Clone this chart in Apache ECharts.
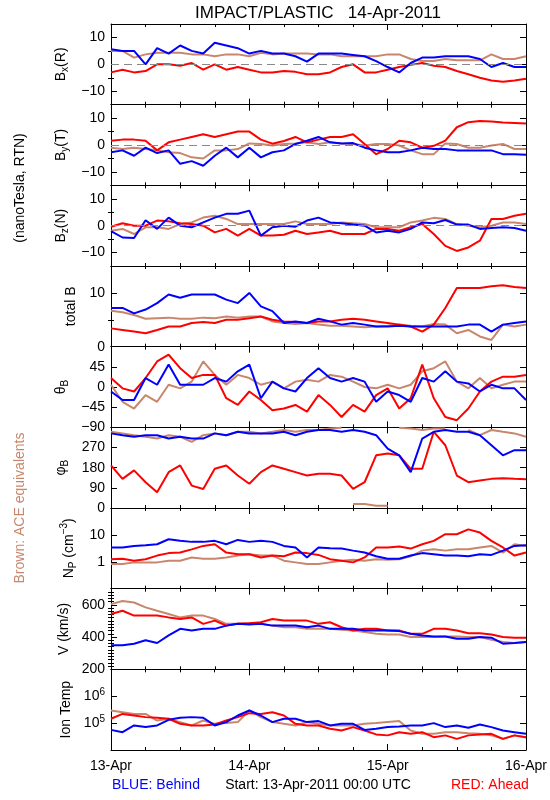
<!DOCTYPE html>
<html>
<head>
<meta charset="utf-8">
<script src="https://cdn.jsdelivr.net/npm/echarts@6/dist/echarts.min.js"></script>
<style>html,body{margin:0;padding:0;background:#fff}#chart{width:550px;height:800px}</style>
</head>
<body>
<div id="chart"></div>
<script>
// ---------- DATA (2-hour samples, hours since 13-Apr-2011 00:00 UTC) ----------
const hours = [0,2,4,6,8,10,12,14,16,18,20,22,24,26,28,30,32,34,36,38,40,42,44,46,48,50,52,54,56,58,60,62,64,66,68,70,72];
const dayLabels = ['13-Apr','14-Apr','15-Apr','16-Apr'];

const bxBlue  = [5.6,5,5,0,6,4,7,5,4,8,7,6,4,5,4,4,3,1,4,4,4,3.5,3,1.2,-1,-3,0.5,2.5,2.5,3,3,3,2,-1,0.5,-1,-1];
const bxRed   = [-3,-2,-3,-2.5,0,0,-0.5,0.5,-2,0,-2,-1,-2,-3,-3,-2.5,-2.8,-3.7,-3.7,-3,-1,0,-3,-3,-2,-1,-0.2,0.5,-0.5,-1,-2.5,-3.7,-5,-6,-6.5,-6,-5.4];
const bxBrown = [5,5,2.5,3.7,4.3,4.3,4.3,3.7,3.7,3,3.7,3.7,3,4.3,3.7,4,4,4,3.7,3.7,3,3,3,3,3.7,3.7,2,1.2,1.2,2,1.5,1.5,1.5,3.7,2,2,3];

const byBlue  = [-2.7,-2,-4,-1,-3,-2,-7,-6,-7.7,-4,-1,-4.6,-1,-4.6,-2.7,-2,0.4,1.6,3,1,0.6,0.7,-1,-2,-2.7,-2.7,-2,-1,-1.5,-1.5,-2,-2,-2,-2,-3.4,-3.4,-3.6];
const byRed   = [1.6,2,2,1.6,-2,1,2,3,4,3,4,5,5,2,0.5,1.5,3,1,2,3,3,4,0.4,-3.4,-1.5,1.6,1,-1,-0.3,1.6,6.6,8.5,8.9,8.7,8.4,8.2,8];
const byBrown = [-1,-1.5,-1,-1.5,-2,-2.7,-3,-4.6,-5,-2,-2,-1.5,0.6,0.4,-0.2,0.4,0.6,1,0.4,1,0.6,0.4,-0.2,0.4,0.4,-0.2,-2,-3.4,-3.4,0.6,0.4,-1,-1,-0.2,0.4,-1.5,-1.5];

const bzBlue  = [-2,-4.4,-4.6,2,-1.2,3,0,-0.6,1.2,3,4.4,4.4,5.6,-3.7,-0.6,0,-0.4,1.9,3,1.2,0.9,0.4,0,-2.5,-1.9,-2.5,-1.2,1.2,0.9,2.1,0.4,0.4,-1.2,-0.9,-0.6,-0.9,-1.9];
const bzRed   = [-0.4,0.9,0,0,1.9,1.6,0.9,0.6,0,-2.5,-1.2,-3.7,-1.2,-3.7,-3.7,-3.4,-1.9,-3.1,-2.5,-1.9,-3.1,-3.1,-3.1,-1.2,-1.2,-1.9,-0.6,0.6,-3.1,-7.5,-9.4,-8.1,-5.6,2.5,2.5,3.7,4.4];
const bzBrown = [-1.9,-1.2,-3.1,-0.6,-0.6,-1.2,0.6,1.2,3,3.7,2.5,0.6,0.6,0.6,0.6,0.6,1.6,0.6,0.6,0.6,1.2,0.9,0.6,-0.6,-0.6,-0.6,1.2,1.9,2.9,2.5,0.6,0,-0.6,0,1.2,1.2,0.6];

const btBlue  = [7.2,7.2,6.2,6.9,8.1,9.7,9.1,9.7,9.7,9.7,8.75,8.1,10,7.5,6.6,4.4,4.7,4.4,5.2,4.7,4.1,4.4,4.1,3.75,3.75,3.9,3.75,3.75,3.75,3.75,3.75,4.1,4.1,2.8,4.1,4.4,4.7];
const btRed   = [3.4,3.1,2.8,2.5,3.1,3.75,3.75,4.4,4.6,4.4,5,5,5.3,5.6,5,4.7,4.6,4.4,4.7,4.7,5,5.2,5,4.7,4.4,4.1,3.75,2.8,4.1,7.2,10.9,10.9,10.9,11.25,11.4,11.1,10.9];
const btBrown = [6.7,6.4,5.9,5.2,5.3,5.4,5.2,5.2,5.4,5.3,5.6,5.4,5.6,5.6,4.7,4.4,4.2,4.4,4.1,3.9,3.9,3.75,3.6,3.75,3.9,4.1,3.9,3.75,4.2,4.1,2.5,3.1,1.9,1.25,4.1,3.75,4.1];

const thBlue  = [-10,-29,-29,20,5,50,5,5,5,20,12,35,50,-25,12,-3,-10,20,42,20,12,20,12,-33,-10,-18,-33,20,12,35,12,8,-10,5,-3,-3,-29];
const thRed   = [20,-3,-10,20,57,72,42,20,27,27,-25,-40,-10,-29,-52,-48,-40,-55,-18,-40,-67,-40,-55,-18,-3,-48,-25,50,-25,-67,-74,-48,-10,12,23,23,27];
const thBrown = [5,-33,-48,-18,-33,5,-3,12,57,27,5,27,20,5,12,-3,12,16,12,27,23,12,0,-3,5,-3,5,35,42,57,12,-3,20,-3,5,12,12];

const phBlue  = [333,325,318,325,325,310,318,310,310,333,325,340,333,333,333,340,325,340,348,348,340,348,340,325,265,235,160,310,340,348,340,340,325,280,235,258,258];
const phRed   = [190,130,168,115,70,160,190,100,85,175,190,145,108,160,190,175,160,145,153,153,145,85,115,235,243,235,175,175,340,280,145,115,123,130,133,130,128];
const phBrown = [340,333,325,318,310,325,318,295,325,333,325,340,340,333,340,348,340,348,348,355,358,18,18,10,10,358,355,348,355,355,25,348,325,348,340,333,318];

const npBlue  = [3.4,3.4,3.9,4.1,4.5,6.9,6,5.5,5.5,6,4.5,6.5,5.5,6,5.5,3.9,3.4,1.45,3.4,3.2,3.1,2.6,2.2,1.6,1.3,1.3,1.7,2.1,1.9,1.7,1.7,1.6,1.9,1.8,2.6,3.9,4.1];
const npRed   = [1.25,1.3,1.1,1.25,1.7,2.1,2.2,2.9,3.9,4.5,2.2,1.9,1.9,1.45,1.7,1.6,2.2,2.1,1.8,1.25,1.1,0.95,1.45,3.4,3.4,3.7,3.1,4.5,6,10.6,10.6,16,12.2,6,3.4,1.7,2.2];
const npBrown = [0.82,0.82,0.95,0.95,0.95,1.1,1.1,1.45,1.3,1.3,1.45,1.7,1.9,1.7,1.7,1.1,0.95,0.82,0.82,0.95,1.1,1.2,1.1,1.25,1.2,1.25,1.6,2.6,2.9,2.6,2.9,2.9,3.4,3.9,2.2,4.5,3.9];

const vBlue   = [349,349,359,380,363,410,451,441,451,451,471,482,478,482,471,471,471,461,471,451,451,451,441,441,441,437,420,410,404,404,390,390,400,396,359,363,369];
const vRed    = [543,563,533,533,533,522,512,522,482,502,471,482,486,492,512,502,502,502,482,492,461,441,451,451,441,441,420,420,451,451,441,424,424,416,400,396,396];
const vBrown  = [604,624,614,584,563,543,522,533,533,512,482,482,486,482,471,461,461,451,451,451,445,441,431,420,416,416,400,400,400,404,404,400,400,384,369,363,369];

const tBlue   = [56000,46000,82000,71000,82000,133000,158000,167000,158000,82000,109000,192000,295000,192000,109000,145000,145000,109000,119000,82000,94000,94000,56000,62000,71000,75000,82000,82000,100000,71000,82000,67000,89000,71000,53000,46000,40000];
const tRed    = [145000,220000,192000,167000,158000,145000,94000,82000,82000,89000,125000,167000,235000,220000,255000,192000,94000,82000,82000,62000,53000,71000,53000,38000,35000,46000,40000,46000,30000,35000,26000,35000,38000,40000,26000,35000,30000];
const tBrown  = [295000,255000,220000,220000,125000,145000,109000,82000,125000,94000,100000,109000,295000,167000,109000,94000,82000,109000,94000,82000,82000,82000,94000,100000,109000,119000,53000,40000,40000,46000,46000,42000,40000,35000,26000,35000,29000];

// ---------- CHART ----------
const FONT = 'Liberation Sans';
const BLUE = '#0000ff', RED = '#ff0000', BROWN = '#c8866c';

function range(a, b, s, skip) { const r = []; for (let v = a; v <= b + 1e-9; v += s) { if (!skip.includes(v)) r.push(v); } return r; }

const panels = [
  {name:'B{sub|x}(R)', blue:bxBlue, red:bxRed, brown:bxBrown, type:'value', min:-15, max:15, labels:[-10,0,10], major:[-10,0,10], minor:[-5,5], zero:true, gap:40},
  {name:'B{sub|y}(T)', blue:byBlue, red:byRed, brown:byBrown, type:'value', min:-15, max:15, labels:[-10,0,10], major:[-10,0,10], minor:[-5,5], zero:true, gap:40},
  {name:'B{sub|z}(N)', blue:bzBlue, red:bzRed, brown:bzBrown, type:'value', min:-15, max:15, labels:[-10,0,10], major:[-10,0,10], minor:[-5,5], zero:true, gap:40},
  {name:'total B', blue:btBlue, red:btRed, brown:btBrown, type:'value', min:0, max:15, labels:[0,10], major:[0,10], minor:[5], gap:28},
  {name:'θ{sub|B}', blue:thBlue, red:thRed, brown:thBrown, type:'value', min:-90, max:90, labels:[-90,-45,0,45], major:[-90,-45,0,45,90], minor:[], gap:40},
  {name:'φ{sub|B}', blue:phBlue, red:phRed, brown:phBrown, type:'value', min:0, max:360, labels:[0,90,180,270], major:[0,90,180,270,360], minor:[], gap:38, wrap:true},
  {name:'N{sub|P} (cm{sup|−3})', blue:npBlue, red:npRed, brown:npBrown, type:'log', min:0.1, max:100, logLabels:{0:'1',1:'10'}, gap:28},
  {name:'V (km/s)', blue:vBlue, red:vRed, brown:vBrown, type:'value', min:200, max:700, labels:[200,400,600], major:[200,400,600], minor:range(220,680,20,[400,600]), gap:32},
  {name:'Ion Temp', blue:tBlue, red:tRed, brown:tBrown, type:'log', min:1e4, max:1e7, logLabels:{5:'10{sup|5}',6:'10{sup|6}'}, gap:32}
];

const rich = {
  sub:{fontSize:10, fontFamily:FONT, verticalAlign:'bottom', padding:[9,0,0,0], color:'#000'},
  sup:{fontSize:10, fontFamily:FONT, verticalAlign:'top', padding:[0,0,8,0], color:'#000'}
};

const TOP = 24, H = 80.667;
const grids = [], xAxes = [], yAxes = [], series = [];
const black = {color:'#000', width:1};

// Build [hour, value] pairs; for angle data, break the line where it wraps around 0/360.
function pairs(vals, wrap) {
  const out = [];
  hours.forEach((h, i) => {
    if (wrap && i > 0 && Math.abs(vals[i] - vals[i-1]) > 180) out.push([h - 1, null]);
    out.push([h, vals[i]]);
  });
  return out;
}

panels.forEach((p, k) => {
  grids.push({left:111, width:415, top: TOP + k*H, height: H});
  const xBase = {
    gridIndex:k, type:'value', min:0, max:72, interval:24,
    axisLine:{show:true, onZero:false, lineStyle:black},
    axisTick:{show:true, inside:true, length:6, lineStyle:black},
    minorTick:{show:true, splitNumber:4, length:3, lineStyle:black},
    splitLine:{show:false}, minorSplitLine:{show:false}
  };
  const xi = xAxes.length;
  xAxes.push(Object.assign({}, xBase, {position:'bottom',
    axisLabel:{show:k===8, margin:9, color:'#000', fontFamily:FONT, fontSize:14,
      formatter:v => dayLabels[Math.round(v/24)]}}));
  xAxes.push(Object.assign({}, xBase, {position:'top', axisLabel:{show:false}}));

  const yi = yAxes.length;
  const yBase = {gridIndex:k, type:p.type, min:p.min, max:p.max, splitLine:{show:false}};
  if (p.type === 'log') yBase.logBase = 10;
  const labelStyle = {show:true, color:'#000', fontFamily:FONT, fontSize:14, margin:6, rich:rich};
  let leftLabel, leftTick;
  if (p.type === 'log') {
    leftLabel = Object.assign({}, labelStyle, {showMinLabel:true, showMaxLabel:true,
      formatter: v => { const e = Math.round(Math.log10(v)); return p.logLabels[e] !== undefined ? p.logLabels[e] : ''; }});
    leftTick = {show:true, inside:true, length:6, lineStyle:black};
  } else {
    leftLabel = Object.assign({}, labelStyle, {customValues:p.labels, formatter: v => String(v).replace('-', '−')});
    leftTick = {show:true, inside:true, length:6, lineStyle:black, customValues:p.major};
  }
  yAxes.push(Object.assign({}, yBase, {position:'left',
    axisLine:{show:true, onZero:false, lineStyle:black}, axisTick:leftTick, axisLabel:leftLabel,
    name:p.name, nameLocation:'middle', nameGap:p.gap, nameRotate:90,
    nameTextStyle:{color:'#000', fontFamily:FONT, fontSize:14, rich:rich}}));
  yAxes.push(Object.assign({}, yBase, {position:'right',
    axisLine:{show:true, onZero:false, lineStyle:black}, axisTick:leftTick, axisLabel:{show:false}}));
  if (p.minor && p.minor.length) {
    const mt = {show:true, inside:true, length:3, lineStyle:black, customValues:p.minor};
    yAxes.push(Object.assign({}, yBase, {position:'left', axisLine:{show:false}, axisTick:mt, axisLabel:{show:false}}));
    yAxes.push(Object.assign({}, yBase, {position:'right', axisLine:{show:false}, axisTick:mt, axisLabel:{show:false}}));
  }

  const mk = (vals, color, zero) => {
    const s = {type:'line', xAxisIndex:xi, yAxisIndex:yi, data: pairs(vals, p.wrap),
      connectNulls:false, showSymbol:false, symbol:'none', lineStyle:{color:color, width:2}, itemStyle:{color:color},
      animation:false, silent:true, clip:true};
    if (zero) s.markLine = {silent:true, symbol:'none', label:{show:false},
      lineStyle:{color:'#888', type:[8,5], width:1}, data:[{yAxis:0}]};
    return s;
  };
  series.push(mk(p.brown, BROWN, p.zero));
  series.push(mk(p.red, RED, false));
  series.push(mk(p.blue, BLUE, false));
});

const txt = (x, y, text, color, size, align, rot) => ({
  type:'text', x:x, y:y, rotation: rot || 0,
  style:{text:text, fill:color, font: size + 'px "' + FONT + '"', align:align || 'center', verticalAlign:'middle'}
});

const option = {
  backgroundColor:'#fff',
  animation:false,
  grid:grids, xAxis:xAxes, yAxis:yAxes, series:series,
  graphic:[
    txt(318, 13, 'IMPACT/PLASTIC   14-Apr-2011', '#000', 17, 'center'),
    txt(20, 188, '(nanoTesla, RTN)', '#000', 14, 'center', Math.PI/2),
    txt(20, 508, 'Brown: ACE equivalents', BROWN, 14, 'center', Math.PI/2),
    txt(112, 785, 'BLUE: Behind', BLUE, 14, 'left'),
    txt(318, 785, 'Start: 13-Apr-2011 00:00 UTC', '#000', 14, 'center'),
    txt(451, 785, 'RED: Ahead', RED, 14, 'left')
  ]
};

const chart = echarts.init(document.getElementById('chart'), null, {renderer:'canvas'});
chart.setOption(option);
</script>
</body>
</html>
